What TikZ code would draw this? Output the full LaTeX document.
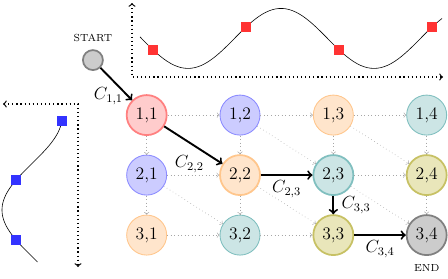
\documentclass[tikz,border=0pt]{standalone}
\usepackage{amsmath,amssymb}
\usepackage{xcolor}
\usetikzlibrary{arrows,calc,positioning}

\tikzset{
  cell/.style={circle, draw, semithick, minimum size=0.96cm, inner sep=0pt, font=\large},
  onpath/.style={very thick},
  hue2/.style={fill=red!20, draw=red!50},
  hue3/.style={fill=blue!20, draw=blue!45},
  hue4/.style={fill=orange!20, draw=orange!45},
  hue5/.style={fill=teal!20, draw=teal!50},
  hue6/.style={fill=olive!20, draw=olive!50},
  hue7/.style={fill=gray!40, draw=gray},
  endpoint/.style={circle, draw=gray, fill=gray!40, very thick, minimum size=0.48cm, inner sep=0pt},
  tag/.style={font=\scriptsize, inner sep=1pt},
  cost/.style={font=\large},
  grid edge/.style={->, gray!70, dotted},
  path arrow/.style={->, line width=1.3pt, black},
  axis/.style={thick, dotted},
  redmark/.style={fill=red!80},
  bluemark/.style={fill=blue!80},
  declare function={topwave(\x)=5.75-0.72*cos(360*(\x-4.512)/4.464);
                    leftwave(\y)=0.768-0.72*cos(360*(\y-1.632)/4.464);}
}

\begin{document}
\begin{tikzpicture}[>=to]
    \useasboundingbox (0,0) rectangle (10.752,6.672);
    % top signal
    \coordinate (topO) at (3.168,4.824);
    \coordinate (topY) at (3.168,6.6);
    \coordinate (topX) at (10.632,4.824);
    \draw[axis, <->] (topY) -- (topO) -- (topX);
    \draw plot[domain=3.36:10.61, samples=90] (\x,{topwave(\x)});
    \foreach \x in {3.672,5.904,8.136,10.368}{\fill[redmark] ({\x-0.12},{topwave(\x)-0.12}) rectangle +(0.24,0.24);}
    % left signal
    \coordinate (leftO) at (1.872,4.176);
    \coordinate (leftX) at (0.072,4.176);
    \coordinate (leftY) at (1.872,0.264);
    \draw[axis, <->] (leftX) -- (leftO) -- (leftY);
    \draw plot[domain=0.384:3.78, samples=70] ({leftwave(\x)},\x);
    \foreach \y in {3.768,2.352,0.912}{\fill[bluemark] ({leftwave(\y)-0.12},{\y-0.12}) rectangle +(0.24,0.24);}
    % cells
    \node[cell, hue2, onpath] (n11) at (3.52,3.91) {1,1};
    \node[cell, hue3] (n12) at (5.76,3.91) {1,2};
    \node[cell, hue4] (n13) at (8.00,3.91) {1,3};
    \node[cell, hue5] (n14) at (10.24,3.91) {1,4};
    \node[cell, hue3] (n21) at (3.52,2.47) {2,1};
    \node[cell, hue4, onpath] (n22) at (5.76,2.47) {2,2};
    \node[cell, hue5, onpath] (n23) at (8.00,2.47) {2,3};
    \node[cell, hue6, onpath] (n24) at (10.24,2.47) {2,4};
    \node[cell, hue4] (n31) at (3.52,1.03) {3,1};
    \node[cell, hue5] (n32) at (5.76,1.03) {3,2};
    \node[cell, hue6, onpath] (n33) at (8.00,1.03) {3,3};
    \node[cell, hue7, onpath] (n34) at (10.24,1.03) {3,4};
    % start and end
    \node[endpoint] (start) at (2.23,5.23) {};
    \node[tag, above=0.14cm of start] (startlbl) {START};
    \node[tag, below=0.16cm of n34] (endlbl) {END};
    % all moves
    \foreach \i in {1,2,3}{\foreach \j/\k in {1/2,2/3,3/4}{\draw[grid edge] (n\i\j) -- (n\i\k);}}
    \foreach \i/\k in {1/2,2/3}{\foreach \j in {1,...,4}{\draw[grid edge] (n\i\j) -- (n\k\j);}}
    \foreach \i/\k in {1/2,2/3}{\foreach \j/\l in {1/2,2/3,3/4}{\draw[grid edge] (n\i\j) -- (n\k\l);}}
    % warping path
    \draw[path arrow] (start) -- (n11) node[cost, pos=0.88, left, inner sep=3pt] {$C_{1,1}$};
    \draw[path arrow] (n11) -- (n22) node[cost, pos=0.72, below left, inner sep=1pt] {$C_{2,2}$};
    \draw[path arrow] (n22) -- (n23) node[cost, midway, below] {$C_{2,3}$};
    \draw[path arrow] (n23) -- (n33) node[cost, midway, right, inner sep=5pt] {$C_{3,3}$};
    \draw[path arrow] (n33) -- (n34) node[cost, midway, below] {$C_{3,4}$};
\end{tikzpicture}
\end{document}
